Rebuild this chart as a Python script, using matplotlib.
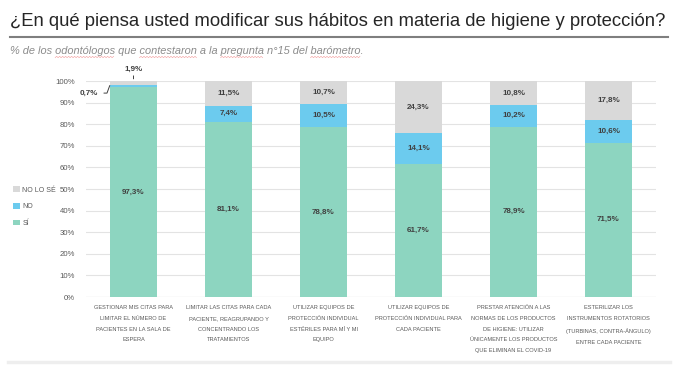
import numpy as np
import matplotlib
matplotlib.use("Agg")
import matplotlib.pyplot as plt
from matplotlib.lines import Line2D
from matplotlib.font_manager import FontProperties

plt.rcParams['font.family'] = ['Liberation Sans', 'DejaVu Sans']

# data
categorias = [
    "GESTIONAR MIS CITAS PARA\nLIMITAR EL NÚMERO DE\nPACIENTES EN LA SALA DE\nESPERA",
    "LIMITAR LAS CITAS PARA CADA\nPACIENTE, REAGRUPANDO Y\nCONCENTRANDO LOS\nTRATAMIENTOS",
    "UTILIZAR EQUIPOS DE\nPROTECCIÓN INDIVIDUAL\nESTÉRILES PARA MÍ Y MI\nEQUIPO",
    "UTILIZAR EQUIPOS DE\nPROTECCIÓN INDIVIDUAL PARA\nCADA PACIENTE",
    "PRESTAR ATENCIÓN A LAS\nNORMAS DE LOS PRODUCTOS\nDE HIGIENE: UTILIZAR\nÚNICAMENTE LOS PRODUCTOS\nQUE ELIMINAN EL COVID-19",
    "ESTERILIZAR LOS\nINSTRUMENTOS ROTATORIOS\n(TURBINAS, CONTRA-ÁNGULO)\nENTRE CADA PACIENTE",
]
si = [97.3, 81.1, 78.8, 61.7, 78.9, 71.5]
no = [0.7, 7.4, 10.5, 14.1, 10.2, 10.6]
no_se = [1.9, 11.5, 10.7, 24.3, 10.8, 17.8]
series = ["SÍ", "NO", "NO LO SÉ"]
colores = ["#8dd5c0", "#6ccbee", "#d9d9d9"]
yticks = [0, 10, 20, 30, 40, 50, 60, 70, 80, 90, 100]

titulo = "¿En qué piensa usted modificar sus hábitos en materia de higiene y protección?"
subtitulo = "% de los odontólogos que contestaron a la pregunta n°15 del barómetro."
subrayadas = ["odontólogos", "contestaron", "pregunta", "barómetro"]

W, H = 687, 381
fig = plt.figure(figsize=(W / 100, H / 100), dpi=100)
ax = fig.add_axes([86 / W, 1 - 297 / H, (656 - 86) / W, (297 - 81) / H])

x = np.arange(len(categorias))
ancho = 0.49
valores = [si, no, no_se]
base = np.zeros(len(x))
for vals, col, nom in zip(valores, colores, series):
    vals = np.array(vals)
    ax.bar(x, vals, ancho, bottom=base, color=col, label=nom, zorder=2)
    for i, v in enumerate(vals):
        if i == 0 and nom != "SÍ":
            continue
        ax.text(x[i], base[i] + v / 2, f"{v:.1f}%".replace(".", ","),
                ha="center", va="center", fontsize=5.8, fontweight="bold",
                color="#404040")
    base = base + vals

# small segments of first bar
b0 = si[0]
ax.annotate(f"{no[0]:.1f}%".replace(".", ","), xy=(x[0] - ancho / 2, b0 + no[0] + 0.5),
            xytext=(x[0] - 0.37, 94.4), ha="right", va="center",
            fontsize=5.8, fontweight="bold", color="#404040",
            arrowprops=dict(arrowstyle="-", color="#404040", lw=0.7,
                            relpos=(1, 0.5), shrinkA=2, shrinkB=1,
                            connectionstyle="angle,angleA=0,angleB=70,rad=0"))
ax.annotate(f"{no_se[0]:.1f}%".replace(".", ","), xy=(x[0], 101),
            xytext=(x[0], 105.3), ha="center", va="center",
            fontsize=5.8, fontweight="bold", color="#404040",
            arrowprops=dict(arrowstyle="-", color="#404040", lw=0.7,
                            shrinkA=3, shrinkB=0), annotation_clip=False)

ax.set_xlim(-0.5, len(x) - 0.5)
ax.set_ylim(0, 100)
ax.set_yticks(yticks)
ax.set_yticklabels([f"{t}%" for t in yticks], fontsize=5.6, color="#595959")
ax.set_xticks(x)
ax.set_xticklabels(categorias, fontsize=4.1, color="#595959", linespacing=2.4)
ax.tick_params(length=0, pad=6)
ax.tick_params(axis="y", pad=8)
ax.grid(axis="y", color="#e3e3e3", lw=0.8, zorder=0)
for s in ax.spines.values():
    s.set_visible(False)
ax.axhline(0, color="#d9d9d9", lw=0.8, zorder=1)

# legend
h, l = ax.get_legend_handles_labels()
fig.legend(h[::-1], l[::-1], loc="upper left",
           bbox_to_anchor=(7 / W, 1 - 180 / H), frameon=False, fontsize=5.0,
           labelcolor="#595959", handlelength=0.9, handleheight=0.9,
           handletextpad=0.4, labelspacing=1.35)

# title, rule, subtitle
fig.text(10 / W, 1 - 22 / H, titulo,
         fontsize=13.3, color="#262626", va="center", ha="left")
fig.add_artist(Line2D([10 / W, 668 / W], [1 - 37 / H, 1 - 37 / H],
                      color="#7f7f7f", lw=1.5))
fp_sub = FontProperties(family="Liberation Sans", style="italic", size=7.9)
fig.text(10 / W, 1 - 51 / H, subtitulo, fontproperties=fp_sub,
         color="#8c8c8c", va="center", ha="left")

# spell-check squiggles under some words of the subtitle
rend = fig.canvas.get_renderer()
def ancho_px(s):
    return rend.get_text_width_height_descent(s, fp_sub, ismath=False)[0]
for pal in subrayadas:
    k = subtitulo.index(pal)
    x0 = 10 + ancho_px(subtitulo[:k])
    x1 = x0 + ancho_px(pal)
    xs = np.arange(x0, x1, 1.5)
    ys = 57 + 0.7 * (-1) ** np.arange(len(xs))
    fig.add_artist(Line2D(xs / W, 1 - ys / H, color="#f08080", lw=0.4, alpha=0.8))

# bottom band
fig.add_artist(Line2D([8 / W, 670 / W], [1 - 362 / H, 1 - 362 / H],
                      color="#eeeeee", lw=2.5))

fig.savefig("out.png", dpi=100, facecolor="white")
